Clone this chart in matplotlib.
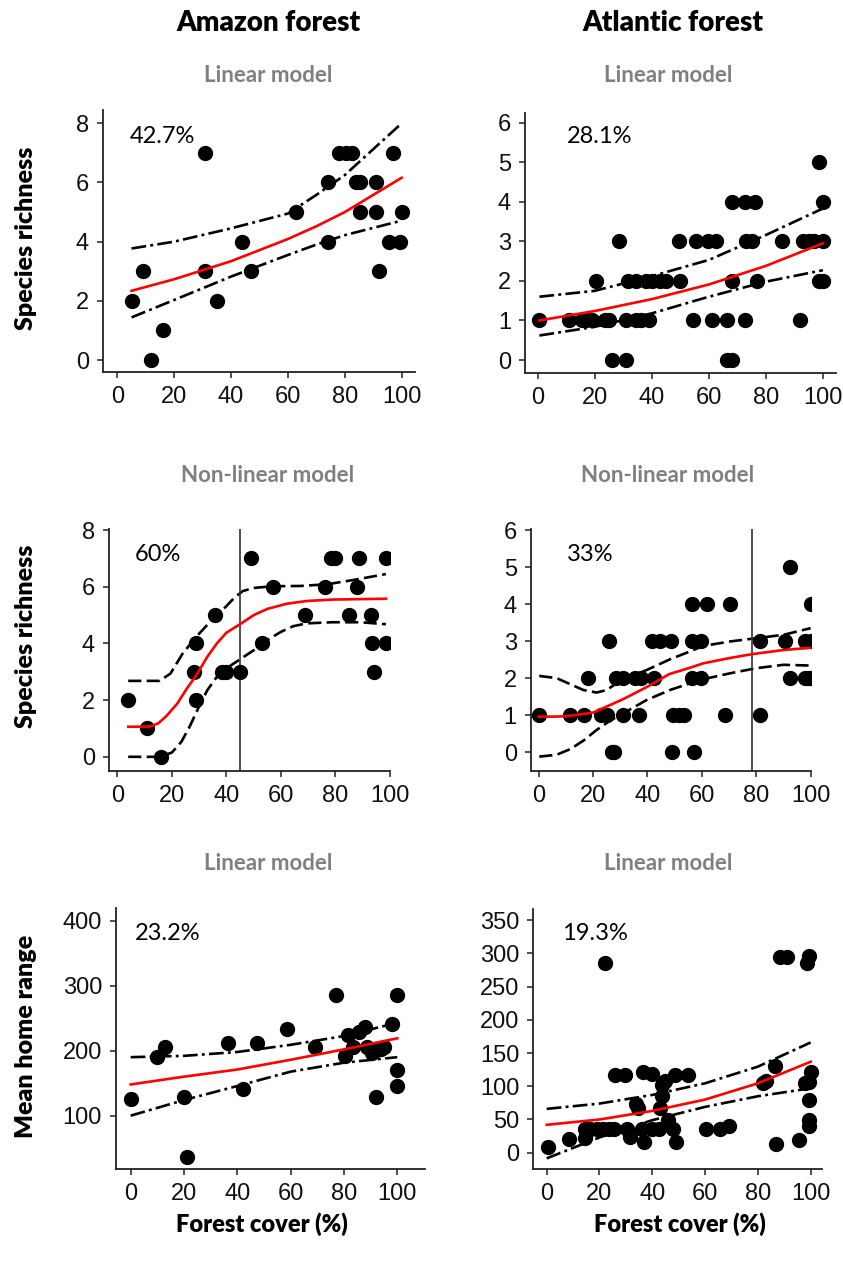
import matplotlib
matplotlib.use("Agg")
import matplotlib.pyplot as plt

# ---------------- data ----------------
# Panel A1: Amazon forest, species richness, linear model
am_lin_x = [5, 9, 12, 16, 31, 31, 35, 44, 47, 63, 74, 74, 78, 80.5, 82.5, 84, 85.5, 85.5, 91, 91, 92, 95.5, 97, 99.5, 100]
am_lin_y = [2, 3, 0, 1, 7, 3, 2, 4, 3, 5, 6, 4, 7, 7, 7, 6, 6, 5, 6, 5, 3, 4, 7, 4, 5]
am_lin_fx = [5, 20, 40, 60, 70, 80, 100]
am_lin_fit = [2.34, 2.73, 3.34, 4.09, 4.52, 5.00, 6.16]
am_lin_up = [3.77, 4.00, 4.45, 4.95, 5.58, 6.25, 8.00]
am_lin_lo = [1.44, 2.03, 2.82, 3.55, 3.90, 4.22, 4.71]
am_lin_r2 = "42.7%"

# Panel B1: Atlantic forest, species richness, linear model
at_lin_x = [26, 31, 66.5, 68,
            0.5, 11, 15.5, 17, 19, 23.5, 25, 31, 34.5, 36, 39, 54.5, 61, 66.5, 72.5, 92,
            20.5, 31.5, 34.5, 38, 40, 43, 45, 50, 68, 77, 98.5, 100,
            28.5, 49.5, 55.5, 59.5, 62.5, 73, 75, 85.5, 93, 95, 97, 100,
            68, 72.5, 76, 100,
            98.5]
at_lin_y = [0, 0, 0, 0,
            1, 1, 1, 1, 1, 1, 1, 1, 1, 1, 1, 1, 1, 1, 1, 1,
            2, 2, 2, 2, 2, 2, 2, 2, 2, 2, 2, 2,
            3, 3, 3, 3, 3, 3, 3, 3, 3, 3, 3, 3,
            4, 4, 4, 4,
            5]
at_lin_fx = [0.5, 20, 40, 60, 80, 100]
at_lin_fit = [1.00, 1.24, 1.54, 1.91, 2.38, 2.95]
at_lin_up = [1.60, 1.75, 2.12, 2.53, 3.16, 3.83]
at_lin_lo = [0.62, 0.84, 1.18, 1.60, 1.98, 2.27]
at_lin_r2 = "28.1%"

# Panel A2: Amazon forest, species richness, non-linear model
am_nl_x = [4, 11, 16, 28, 29, 29, 36, 38.5, 40, 45, 49, 53, 57, 69, 76, 78.5, 80, 85, 88, 88.5, 93, 93.5, 94, 98.5, 98.5]
am_nl_y = [2, 1, 0, 3, 2, 4, 5, 3, 3, 3, 7, 4, 6, 5, 6, 7, 7, 5, 6, 7, 5, 4, 3, 4, 7]
am_nl_fx = [4, 12, 15, 18, 22, 25.5, 29, 33, 36.5, 40, 45, 50, 55, 62, 69.5, 79, 98.5]
am_nl_fit = [1.06, 1.07, 1.18, 1.44, 1.88, 2.41, 2.88, 3.53, 4.00, 4.38, 4.68, 5.00, 5.22, 5.40, 5.50, 5.55, 5.58]
am_nl_ux = [4, 15.5, 19.5, 24, 29, 34, 39, 43, 46, 50, 57, 67, 77, 86.5, 98.5]
am_nl_up = [2.68, 2.68, 2.94, 3.65, 4.24, 4.76, 5.22, 5.62, 5.85, 5.96, 6.02, 6.03, 6.09, 6.24, 6.45]
am_nl_lx = [4, 15.5, 20, 23.5, 26.5, 30.5, 33, 36.5, 40, 45, 50, 55, 60, 64.5, 69.5, 79, 89, 98.5]
am_nl_lo = [0.00, 0.00, 0.15, 0.53, 1.06, 1.88, 2.35, 2.82, 3.12, 3.44, 3.76, 4.12, 4.41, 4.61, 4.71, 4.75, 4.75, 4.68]
am_nl_break = 45
am_nl_r2 = "60%"

# Panel B2: Atlantic forest, species richness, non-linear model
at_nl_x = [27, 27.7, 49, 57,
           0, 11.5, 16.5, 23, 25, 31, 37, 49.5, 51.5, 53.5, 68.5, 81.5,
           18, 28.5, 31, 35.5, 37.5, 42.5, 56.5, 59.5, 92.5, 98, 99.3, 100,
           26, 41.5, 44.5, 48.5, 56.5, 59.5, 81.5, 90.5, 98, 100,
           56.5, 62, 70.5, 100,
           92.5]
at_nl_y = [0, 0, 0, 0,
           1, 1, 1, 1, 1, 1, 1, 1, 1, 1, 1, 1,
           2, 2, 2, 2, 2, 2, 2, 2, 2, 2, 2, 2,
           3, 3, 3, 3, 3, 3, 3, 3, 3, 3,
           4, 4, 4, 4,
           5]
at_nl_fx = [0, 5, 10, 20, 31, 40, 48, 56, 60.5, 70, 78.6, 90, 100]
at_nl_fit = [0.96, 0.96, 0.97, 1.07, 1.43, 1.77, 2.11, 2.29, 2.40, 2.54, 2.65, 2.76, 2.82]
at_nl_bx = [0.2, 6.6, 11.5, 16.4, 21.3, 25, 30.5, 39.7, 48.3, 55.6, 60.5, 70.3, 80.1, 90, 100]
at_nl_up = [2.06, 2.00, 1.84, 1.68, 1.61, 1.68, 1.95, 2.22, 2.51, 2.72, 2.87, 2.99, 3.08, 3.17, 3.35]
at_nl_lx = [0.2, 6.6, 11.5, 16.4, 21.3, 26.2, 31.1, 39.7, 48.3, 55.6, 60.5, 70.3, 80.1, 90, 100]
at_nl_lo = [-0.12, -0.07, 0.08, 0.31, 0.60, 0.85, 1.05, 1.41, 1.68, 1.86, 1.97, 2.13, 2.27, 2.36, 2.34]
at_nl_break = 78.6
at_nl_r2 = "33%"

# Panel A3: Amazon forest, mean home range, linear model
am_hr_x = [0, 10, 13, 20, 21, 36.5, 42, 47.5, 58.5, 69, 77, 80.5, 81.5, 83.5, 85.5, 88, 88.5, 90.5, 92, 92, 94, 95, 98, 100, 100, 100]
am_hr_y = [125, 191, 205, 128, 36, 212, 141, 212, 234, 205, 286, 192, 224, 206, 228, 237, 206, 196, 128, 201, 202, 206, 241, 286, 171, 145]
am_hr_fx = [0, 20, 40, 60, 80, 100]
am_hr_fit = [148, 160, 171, 186, 202, 219]
am_hr_up = [190, 192, 198, 209, 222.5, 243]
am_hr_lo = [100, 124, 145.6, 167.7, 181.5, 190]
am_hr_r2 = "23.2%"

# Panel B3: Atlantic forest, mean home range, linear model
at_hr_x = [0.5, 8.5, 14.5, 14.5, 16.5, 19, 21.5, 22, 23.5, 25.5, 26, 29.5, 30.5, 31.5, 34, 34.5, 36, 36.5, 37, 40,
           40, 42.5, 43, 43.5, 43.5, 45, 46, 48, 48.5, 49, 53.5, 60.5, 65.5, 69, 82, 83, 86.5, 87, 88.5, 91,
           95.5, 98, 98.5, 99.5, 100, 99.5, 99.5, 99.5, 99.5]
at_hr_y = [8, 21, 35, 22, 35, 35, 35, 286, 35, 35, 117, 117, 35, 24, 73, 67, 35, 122, 16, 118,
           35, 35, 67, 85, 102, 108, 49, 35, 117, 16, 117, 35, 35, 40, 105, 108, 130, 13, 295, 295,
           19, 105, 286, 296, 122, 107, 80, 49, 40]
at_hr_fx = [0, 20, 40, 60, 80, 100]
at_hr_fit = [42, 50, 63, 80, 104.5, 137]
at_hr_up = [66, 74, 87, 104.5, 129.6, 166]
at_hr_lo = [-8.5, 23, 49, 69, 85, 97]
at_hr_r2 = "19.3%"

col_titles = ["Amazon forest", "Atlantic forest"]
row_titles = ["Linear model", "Non-linear model", "Linear model"]
y_labels = ["Species richness", "Species richness", "Mean home range"]
x_label = "Forest cover (%)"
x_ticks = [0, 20, 40, 60, 80, 100]

# ---------------- figure ----------------
W, H = 843, 1266
fig = plt.figure(figsize=(W / 100, H / 100), dpi=100)

LABEL_FONT = ["Lato", "DejaVu Sans"]
TICK_FONT = ["Liberation Sans", "DejaVu Sans"]


def add_ax(L, R, T, B):
    return fig.add_axes([L / W, 1 - B / H, (R - L) / W, (B - T) / H])


def style(ax, xlim, ylim, yticks):
    ax.set_xlim(*xlim)
    ax.set_ylim(*ylim)
    for s in ["top", "right"]:
        ax.spines[s].set_visible(False)
    for s in ["left", "bottom"]:
        ax.spines[s].set_linewidth(1.3)
        ax.spines[s].set_color("#222222")
    ax.set_xticks(x_ticks)
    ax.set_yticks(yticks)
    ax.tick_params(direction="out", length=4, width=1.1, color="#222222",
                   labelsize=17, pad=6)
    for lab in ax.get_xticklabels() + ax.get_yticklabels():
        lab.set_family(TICK_FONT)
        lab.set_color("#111111")


def dots(ax, x, y):
    ax.plot(x, y, "o", color="black", markersize=10, linestyle="none", zorder=3)


DASHDOT = (5.6, 1.6, 1.1, 1.6)
DASHED = (5.0, 2.0)
LW = 1.9

# positions of the six axes (pixels)
axA1 = add_ax(103, 415, 110, 372)
axB1 = add_ax(525, 836, 112.7, 372.7)
axA2 = add_ax(109, 390, 529.3, 770.7)
axB2 = add_ax(530.7, 810.7, 529.3, 770.7)
axA3 = add_ax(116, 425, 908.3, 1169.3)
axB3 = add_ax(533.3, 822, 909, 1169.3)

PCT = dict(fontsize=17, family=LABEL_FONT, va="center", ha="left")

# A1
dots(axA1, am_lin_x, am_lin_y)
axA1.plot(am_lin_fx, am_lin_fit, color="red", lw=LW, zorder=4)
axA1.plot(am_lin_fx, am_lin_up, color="black", lw=LW, dashes=DASHDOT)
axA1.plot(am_lin_fx, am_lin_lo, color="black", lw=LW, dashes=DASHDOT)
style(axA1, (-5.03, 104.7), (-0.405, 8.45), [0, 2, 4, 6, 8])
axA1.text(4.5, 7.54, am_lin_r2, **PCT)

# B1
dots(axB1, at_lin_x, at_lin_y)
axB1.plot(at_lin_fx, at_lin_fit, color="red", lw=LW, zorder=4)
axB1.plot(at_lin_fx, at_lin_up, color="black", lw=LW, dashes=DASHDOT)
axB1.plot(at_lin_fx, at_lin_lo, color="black", lw=LW, dashes=DASHDOT)
style(axB1, (-4.56, 104.6), (-0.32, 6.25), [0, 1, 2, 3, 4, 5, 6])
axB1.text(10.0, 5.65, at_lin_r2, **PCT)

# A2
dots(axA2, am_nl_x, am_nl_y)
axA2.plot(am_nl_fx, am_nl_fit, color="red", lw=LW, zorder=4)
axA2.plot(am_nl_ux, am_nl_up, color="black", lw=LW, dashes=DASHED)
axA2.plot(am_nl_lx, am_nl_lo, color="black", lw=LW, dashes=DASHED)
axA2.axvline(am_nl_break, color="#333333", lw=1.2)
style(axA2, (-3.04, 100), (-0.49, 8.03), [0, 2, 4, 6, 8])
axA2.text(6.3, 7.15, am_nl_r2, **PCT)

# B2
dots(axB2, at_nl_x, at_nl_y)
axB2.plot(at_nl_fx, at_nl_fit, color="red", lw=LW, zorder=4)
axB2.plot(at_nl_bx, at_nl_up, color="black", lw=LW, dashes=DASHED)
axB2.plot(at_nl_lx, at_nl_lo, color="black", lw=LW, dashes=DASHED)
axB2.axvline(at_nl_break, color="#333333", lw=1.2)
style(axB2, (-2.94, 100), (-0.50, 6.02), [0, 1, 2, 3, 4, 5, 6])
axB2.text(10.3, 5.35, at_nl_r2, **PCT)

# A3
dots(axA3, am_hr_x, am_hr_y)
axA3.plot(am_hr_fx, am_hr_fit, color="red", lw=LW, zorder=4)
axA3.plot(am_hr_fx, am_hr_up, color="black", lw=LW, dashes=DASHDOT)
axA3.plot(am_hr_fx, am_hr_lo, color="black", lw=LW, dashes=DASHDOT)
style(axA3, (-5.5, 110.4), (17.5, 419), [100, 200, 300, 400])
axA3.text(1.4, 380.6, am_hr_r2, **PCT)

# B3
dots(axB3, at_hr_x, at_hr_y)
axB3.plot(at_hr_fx, at_hr_fit, color="red", lw=LW, zorder=4)
axB3.plot(at_hr_fx, at_hr_up, color="black", lw=LW, dashes=DASHDOT)
axB3.plot(at_hr_fx, at_hr_lo, color="black", lw=LW, dashes=DASHDOT)
style(axB3, (-5.08, 104.3), (-25, 367), [0, 50, 100, 150, 200, 250, 300, 350])
axB3.text(5.8, 330.4, at_hr_r2, **PCT)

# ---------------- figure texts ----------------
def ftext(x, y, s, **kw):
    fig.text(x / W, 1 - y / H, s, ha="center", va="center", family=LABEL_FONT, **kw)


ftext(268, 23, col_titles[0], fontsize=20, fontweight="heavy", color="black")
ftext(673, 23, col_titles[1], fontsize=20, fontweight="heavy", color="black")

row_y = [75, 475, 863]
for yy, t in zip(row_y, row_titles):
    ftext(268, yy, t, fontsize=16, fontweight="bold", color="#7f7f7f")
    ftext(668, yy, t, fontsize=16, fontweight="bold", color="#7f7f7f")

ylab_y = [238, 636, 1036]
for yy, t in zip(ylab_y, y_labels):
    ftext(26, yy, t, fontsize=18, fontweight="heavy", color="black", rotation=90)

ftext(262, 1224, x_label, fontsize=17, fontweight="heavy", color="black")
ftext(680, 1224, x_label, fontsize=17, fontweight="heavy", color="black")

fig.savefig("out.png", dpi=100)
